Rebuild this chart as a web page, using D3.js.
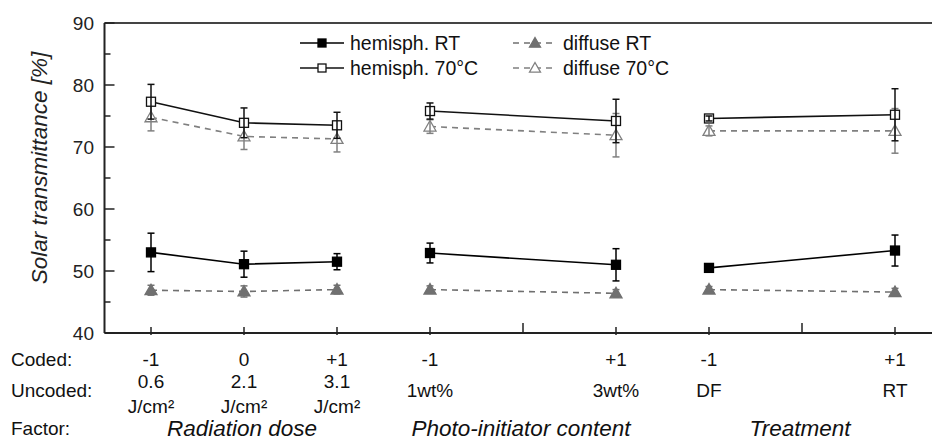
<!DOCTYPE html>
<html>
<head>
<meta charset="utf-8">
<style>
  body { margin: 0; background: #fff; }
  svg { font-family: "Liberation Sans", Arial, sans-serif; }
</style>
</head>
<body>
<div id="chart"></div>

<script src="https://d3js.org/d3.v7.min.js"></script>
<script>

	var w = 932, h = 440;

	// slots along the x axis (blank slots carry only a tick)
	var slots = ["rd-1", "rd0", "rd+1", "pi-1", "pi0", "pi+1", "tr-1", "tr0", "tr+1"];
	var dataSlots = ["rd-1", "rd0", "rd+1", "pi-1", "pi+1", "tr-1", "tr+1"];
	var groupOf = [0, 0, 0, 1, 1, 2, 2];
	var coded = ["-1", "0", "+1", "-1", "+1", "-1", "+1"];
	var uncoded = [["0.6", "J/cm²"], ["2.1", "J/cm²"], ["3.1", "J/cm²"], ["1wt%"], ["3wt%"], ["DF"], ["RT"]];
	var factors = ["Radiation dose", "Photo-initiator content", "Treatment"];
	var factorSlot = ["rd0", "pi0", "tr0"];

	// series values
	var hemRT     = [53.0, 51.1, 51.5, 52.9, 51.0, 50.5, 53.3];
	var hemRTerr  = [3.1, 2.1, 1.3, 1.6, 2.6, 0.5, 2.5];
	var difRT     = [46.9, 46.7, 47.0, 47.0, 46.4, 47.0, 46.6];
	var difRTerr  = [0.8, 0.9, 0.7, 0.6, 0.6, 0.5, 0.6];
	var hem70     = [77.3, 73.9, 73.5, 75.8, 74.2, 74.6, 75.2];
	var hem70err  = [2.8, 2.4, 2.1, 1.3, 3.5, 0.4, 4.2];
	var dif70     = [74.8, 71.7, 71.3, 73.3, 71.9, 72.6, 72.6];
	var dif70err  = [2.2, 2.1, 2.1, 1.1, 3.5, 0.8, 3.6];

	var yTicks = [40, 50, 60, 70, 80, 90];
	var yMinor = [45, 55, 65, 75, 85];

	var series = [
		{ name: "hemisph. RT",   vals: hemRT, err: hemRTerr, color: "#000", dash: null,  sym: "square",   fill: "#000" },
		{ name: "hemisph. 70°C", vals: hem70, err: hem70err, color: "#111", dash: null,  sym: "square",   fill: "#fff" },
		{ name: "diffuse RT",    vals: difRT, err: difRTerr, color: "#707070", dash: "6,5", sym: "triangle", fill: "#707070" },
		{ name: "diffuse 70°C",  vals: dif70, err: dif70err, color: "#808080", dash: "6,5", sym: "triangle", fill: "#fff" }
	];

	var svg = d3.select("#chart")
				.append("svg")
				.attr("width", w)
				.attr("height", h);

	var x = d3.scalePoint().domain(slots).range([104.5, 941.5]).padding(0.5);
	var y = d3.scaleLinear().domain([40, 90]).range([333, 23]);
	var left = 104.5, bottom = 333;

	// frame: left axis, bottom axis, top line
	svg.append("line").attr("x1", left).attr("x2", w).attr("y1", y(90)).attr("y2", y(90))
	   .attr("stroke", "#444").attr("stroke-width", 2);
	svg.append("line").attr("x1", left).attr("x2", left).attr("y1", y(90)).attr("y2", bottom)
	   .attr("stroke", "#222").attr("stroke-width", 2);
	svg.append("line").attr("x1", left).attr("x2", w).attr("y1", bottom).attr("y2", bottom)
	   .attr("stroke", "#222").attr("stroke-width", 2);

	// y ticks (inward)
	svg.selectAll(".ymaj").data(yTicks).enter().append("line")
	   .attr("x1", left).attr("x2", left + 10)
	   .attr("y1", function(d) { return y(d); }).attr("y2", function(d) { return y(d); })
	   .attr("stroke", "#222").attr("stroke-width", 1.5);
	svg.selectAll(".ymin").data(yMinor).enter().append("line")
	   .attr("x1", left).attr("x2", left + 6)
	   .attr("y1", function(d) { return y(d); }).attr("y2", function(d) { return y(d); })
	   .attr("stroke", "#222").attr("stroke-width", 1.5);
	svg.selectAll(".ylab").data(yTicks).enter().append("text")
	   .attr("x", 94).attr("y", function(d) { return y(d); })
	   .attr("dy", "0.36em").attr("text-anchor", "end")
	   .attr("font-size", 19).attr("fill", "#222")
	   .text(function(d) { return d; });

	svg.append("text")
	   .attr("transform", "translate(47,168) rotate(-90)")
	   .attr("text-anchor", "middle")
	   .attr("font-size", 22.5).attr("font-style", "italic").attr("fill", "#222")
	   .text("Solar transmittance [%]");

	// x ticks
	svg.selectAll(".xtick").data(slots).enter().append("line")
	   .attr("x1", function(d) { return x(d); }).attr("x2", function(d) { return x(d); })
	   .attr("y1", function(d) { return dataSlots.indexOf(d) < 0 ? bottom - 10 : bottom - 6; })
	   .attr("y2", function(d) { return dataSlots.indexOf(d) >= 0 ? bottom + 2 : bottom; })
	   .attr("stroke", "#222").attr("stroke-width", 1.5);

	// row labels
	var rowLabels = [["Coded:", 366], ["Uncoded:", 397], ["Factor:", 435]];
	svg.selectAll(".rowlab").data(rowLabels).enter().append("text")
	   .attr("x", 11).attr("y", function(d) { return d[1]; })
	   .attr("font-size", 19).attr("fill", "#111")
	   .text(function(d) { return d[0]; });

	svg.selectAll(".coded").data(coded).enter().append("text")
	   .attr("x", function(d, i) { return x(dataSlots[i]); }).attr("y", 366)
	   .attr("text-anchor", "middle").attr("font-size", 19).attr("fill", "#111")
	   .text(function(d) { return d; });

	dataSlots.forEach(function(s, i) {
		var lines = uncoded[i];
		lines.forEach(function(t, j) {
			svg.append("text")
			   .attr("x", x(s)).attr("y", lines.length > 1 ? 388 + j * 25 : 397)
			   .attr("text-anchor", "middle").attr("font-size", 19).attr("fill", "#111")
			   .text(t);
		});
	});

	svg.selectAll(".factor").data(factors).enter().append("text")
	   .attr("x", function(d, i) { return x(factorSlot[i]) - 2; }).attr("y", 436)
	   .attr("text-anchor", "middle").attr("font-size", 22.5).attr("font-style", "italic").attr("fill", "#111")
	   .text(function(d) { return d; });

	// markers
	function drawSym(g, s, cx, cy, big) {
		if (s.sym === "square") {
			var a = big ? 9 : 8;
			g.append("rect").attr("x", cx - a / 2).attr("y", cy - a / 2).attr("width", a).attr("height", a)
			 .attr("fill", s.fill).attr("stroke", s.color).attr("stroke-width", 1.3);
		} else {
			var r = big ? 6 : 5.5;
			g.append("path")
			 .attr("d", "M" + cx + "," + (cy - r) + "L" + (cx + r) + "," + (cy + r * 0.75) + "L" + (cx - r) + "," + (cy + r * 0.75) + "Z")
			 .attr("fill", s.fill).attr("stroke", s.color).attr("stroke-width", 1.3);
		}
	}

	var line = d3.line()
		.x(function(d) { return x(d.slot); })
		.y(function(d) { return y(d.v); });

	// draw order: diffuse below hemispherical
	[2, 3, 0, 1].forEach(function(k) {
		var s = series[k];
		var pts = s.vals.map(function(v, i) { return { slot: dataSlots[i], v: v, e: s.err[i], g: groupOf[i] }; });
		var g = svg.append("g");
		[0, 1, 2].forEach(function(gi) {
			g.append("path")
			 .datum(pts.filter(function(p) { return p.g === gi; }))
			 .attr("d", line)
			 .attr("fill", "none").attr("stroke", s.color).attr("stroke-width", 1.6)
			 .attr("stroke-dasharray", s.dash);
		});
		pts.forEach(function(p) {
			drawSym(g, s, x(p.slot), y(p.v), true);
		});
		pts.forEach(function(p) {
			var cx = x(p.slot);
			g.append("line").attr("x1", cx).attr("x2", cx).attr("y1", y(p.v + p.e)).attr("y2", y(p.v - p.e))
			 .attr("stroke", s.color).attr("stroke-width", 1.5);
			[p.v + p.e, p.v - p.e].forEach(function(v) {
				g.append("line").attr("x1", cx - 3.5).attr("x2", cx + 3.5).attr("y1", y(v)).attr("y2", y(v))
				 .attr("stroke", s.color).attr("stroke-width", 1.5);
			});
		});
	});

	// legend
	var legendPos = [[300, 43], [300, 68], [513, 43], [513, 68]];
	series.forEach(function(s, i) {
		var lx = legendPos[i][0], ly = legendPos[i][1];
		var g = svg.append("g");
		g.append("line").attr("x1", lx).attr("x2", lx + 44).attr("y1", ly).attr("y2", ly)
		 .attr("stroke", s.color).attr("stroke-width", 1.6).attr("stroke-dasharray", s.dash);
		drawSym(g, s, lx + 22, ly, false);
		g.append("text").attr("x", lx + 50).attr("y", ly).attr("dy", "0.36em")
		 .attr("font-size", 19.5).attr("fill", "#111").text(s.name);
	});

</script>
</body>
</html>
